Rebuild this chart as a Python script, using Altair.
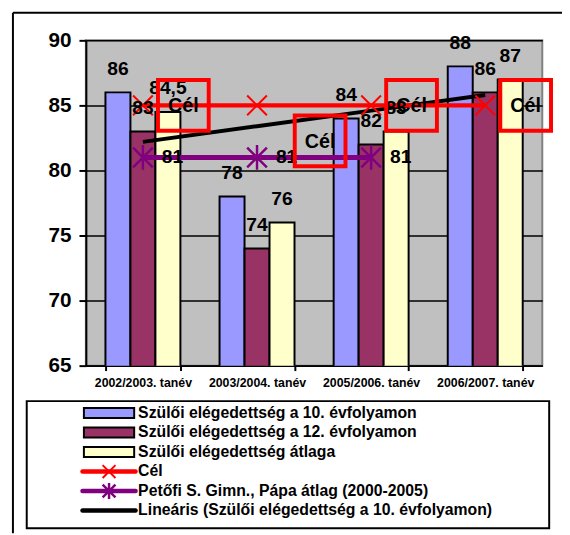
import altair as alt
import pandas as pd

# ---- data ----
categories = ["2002/2003. tanév", "2003/2004. tanév", "2005/2006. tanév", "2006/2007. tanév"]
series_names = [
    "Szülői elégedettség a 10. évfolyamon",
    "Szülői elégedettség a 12. évfolyamon",
    "Szülői elégedettség átlaga",
    "Cél",
    "Petőfi S. Gimn., Pápa átlag (2000-2005)",
    "Lineáris (Szülői elégedettség a 10. évfolyamon)",
]
grade10 = [86, 78, 84, 88]
grade12 = [83, 74, 82, 86]
average = [84.5, 76, 83, 87]
target = [85, 85, 85, 85]
petofi = [81, 81, 81, None]
trend = [82.2, 83.4, 84.6, 85.8]
target_label = "Cél"
y_ticks = [65, 70, 75, 80, 85, 90]

colors = ["#9999FF", "#993366", "#FFFFCC", "#FF0000", "#800080", "#000000"]
FONT = "Liberation Sans"

# ---- tables ----
bar_rows = []
for s, vals in zip(series_names[:3], [grade10, grade12, average]):
    for c, v in zip(categories, vals):
        bar_rows.append({"category": c, "series": s, "value": v})
bar_df = pd.DataFrame(bar_rows)

def line_table(name, vals):
    return pd.DataFrame([{"category": c, "series": name, "value": v}
                         for c, v in zip(categories, vals) if v is not None])

target_df = line_table(series_names[3], target)
target_df["label"] = target_label
petofi_df = line_table(series_names[4], petofi)
trend_df = line_table(series_names[5], trend)

kinds = ["bar", "bar", "bar", "x", "star", "plain"]
legend_df = pd.DataFrame({"series": series_names, "kind": kinds})

color_scale = alt.Scale(domain=series_names, range=colors)
X_PATH = "M-1,-1L1,1M-1,1L1,-1"
STAR_PATH = "M-1,-1L1,1M-1,1L1,-1M0,-1.25L0,1.25"

x_enc = alt.X(
    "category:N", sort=categories,
    scale=alt.Scale(domain=categories, paddingInner=0.343, paddingOuter=0.1715),
    axis=alt.Axis(title=None, labelAngle=0, labelFont=FONT, labelFontSize=12.5,
                  labelFontWeight="bold", labelColor="black", domainColor="black",
                  domainWidth=2, tickColor="black", tickWidth=2, tickSize=5,
                  tickBand="extent", labelPadding=6, grid=False),
)
y_enc = alt.Y(
    "value:Q",
    scale=alt.Scale(domain=[65, 90], nice=False, zero=False),
    axis=alt.Axis(title=None, values=y_ticks, labelFont=FONT, labelFontSize=21,
                  labelFontWeight="bold", labelColor="black", domainColor="black",
                  domainWidth=2, tickColor="black", tickWidth=2, tickSize=7,
                  labelPadding=8, grid=True, gridColor="black", gridWidth=1.5),
)
color_enc = alt.Color("series:N", scale=color_scale, legend=None)
off_enc = alt.XOffset("series:N", sort=series_names[:3],
                      scale=alt.Scale(domain=series_names[:3], paddingInner=0, paddingOuter=0))

bars = alt.Chart(bar_df).mark_bar(stroke="black", strokeWidth=2, clip=True).encode(
    x=x_enc, xOffset=off_enc, y=y_enc, color=color_enc)

bar_labels = alt.Chart(bar_df).transform_calculate(
    label="replace(toString(datum.value), '.', ',')"
).mark_text(font=FONT, fontSize=19.5, fontWeight="bold", color="black",
            baseline="middle", dy=-24).encode(
    x=x_enc, xOffset=off_enc, y=y_enc, text="label:N")

trend_line = alt.Chart(trend_df).mark_line(strokeWidth=4).encode(
    x=x_enc, y=y_enc, color=color_enc)

target_line = alt.Chart(target_df).mark_line(strokeWidth=4.5).encode(
    x=x_enc, y=y_enc, color=color_enc)
target_pts = alt.Chart(target_df).mark_point(shape=X_PATH, size=400, filled=False,
                                             strokeWidth=2, opacity=1).encode(
    x=x_enc, y=y_enc, color=color_enc)

petofi_line = alt.Chart(petofi_df).mark_line(strokeWidth=5).encode(
    x=x_enc, y=y_enc, color=color_enc)
petofi_pts = alt.Chart(petofi_df).mark_point(shape=STAR_PATH, size=400, filled=False,
                                             strokeWidth=2.5, opacity=1).encode(
    x=x_enc, y=y_enc, color=color_enc)
petofi_labels = alt.Chart(petofi_df).mark_text(
    font=FONT, fontSize=19.5, fontWeight="bold", color="black", baseline="middle",
    align="center", dx=30).encode(
    x=x_enc, y=y_enc, text=alt.Text("value:Q"))

second = categories[1]
main_target = alt.Chart(target_df).transform_filter(f"datum.category != '{second}'")
moved_target = alt.Chart(target_df).transform_filter(f"datum.category == '{second}'")

cel_text_a = main_target.mark_text(font=FONT, fontSize=20, fontWeight="bold",
                                   color="black", baseline="middle", dx=41, dy=1).encode(
    x=x_enc, y=y_enc, text="label:N")
cel_box_a = main_target.mark_point(shape="square", size=2650, filled=False,
                                   stroke="#FF0000", strokeWidth=4, opacity=1,
                                   xOffset=41).encode(x=x_enc, y=y_enc)
cel_text_b = moved_target.mark_text(font=FONT, fontSize=20, fontWeight="bold",
                                    color="black", baseline="middle", dx=64, dy=37).encode(
    x=x_enc, y=y_enc, text="label:N")
cel_box_b = moved_target.mark_point(shape="square", size=2650, filled=False,
                                    stroke="#FF0000", strokeWidth=4, opacity=1,
                                    xOffset=64, yOffset=36).encode(x=x_enc, y=y_enc)

main = alt.layer(bars, trend_line, target_line, petofi_line, target_pts, petofi_pts,
                 bar_labels, petofi_labels, cel_box_a, cel_text_a, cel_box_b, cel_text_b)

# ---- legend (drawn with its own point scale) ----
one = pd.DataFrame({"k": [0]})
legend_box = alt.Chart(one).mark_rect(fill="white", stroke="black", strokeWidth=2).encode(
    x=alt.value(-60), x2=alt.value(470), y=alt.value(366), y2=alt.value(495))

ly = alt.Y("series:N", sort=series_names,
           scale=alt.Scale(domain=series_names, range=[378, 477], padding=0), axis=None)
leg = alt.Chart(legend_df)
leg_swatch = leg.transform_filter("datum.kind == 'bar'").mark_point(
    shape="M-1,-0.2H1V0.2H-1Z", size=2601, filled=True, stroke="black",
    strokeWidth=2, opacity=1).encode(x=alt.value(23.5), y=ly, color=color_enc)
leg_line = leg.transform_filter("datum.kind != 'bar'").mark_point(
    shape="M-1,0H1", size=2900, filled=False, strokeWidth=4.5, opacity=1,
    strokeCap="round").encode(x=alt.value(23.5), y=ly, color=color_enc)
leg_x = leg.transform_filter("datum.kind == 'x'").mark_point(
    shape=X_PATH, size=170, filled=False, strokeWidth=2, opacity=1).encode(
    x=alt.value(23.5), y=ly, color=color_enc)
leg_star = leg.transform_filter("datum.kind == 'star'").mark_point(
    shape=STAR_PATH, size=170, filled=False, strokeWidth=2.5, opacity=1).encode(
    x=alt.value(23.5), y=ly, color=color_enc)
leg_text = leg.mark_text(font=FONT, fontSize=16, fontWeight="bold", color="black",
                         align="left", baseline="middle").encode(
    x=alt.value(53), y=ly, text="series:N")
legend = alt.layer(legend_box, leg_swatch, leg_line, leg_x, leg_star, leg_text)

# ---- outer frame of the picture ----
frame_left = alt.Chart(one).mark_rule(color="black", strokeWidth=2).encode(
    x=alt.value(-74), y=alt.value(-28), y2=alt.value(500))
frame_top = alt.Chart(one).mark_rule(color="black", strokeWidth=2).encode(
    x=alt.value(-74), x2=alt.value(490), y=alt.value(-28))

chart = alt.layer(main, legend, frame_left, frame_top).resolve_scale(
    y="independent"
).properties(
    width=463, height=330,
    autosize=alt.AutoSizeParams(type="none"),
    padding={"left": 79, "top": 29, "right": 20, "bottom": 168},
    background="white",
).configure_view(fill="#C0C0C0", stroke="#808080", strokeWidth=2)

chart.save("out.html", embed_options={"renderer": "svg", "actions": False})
